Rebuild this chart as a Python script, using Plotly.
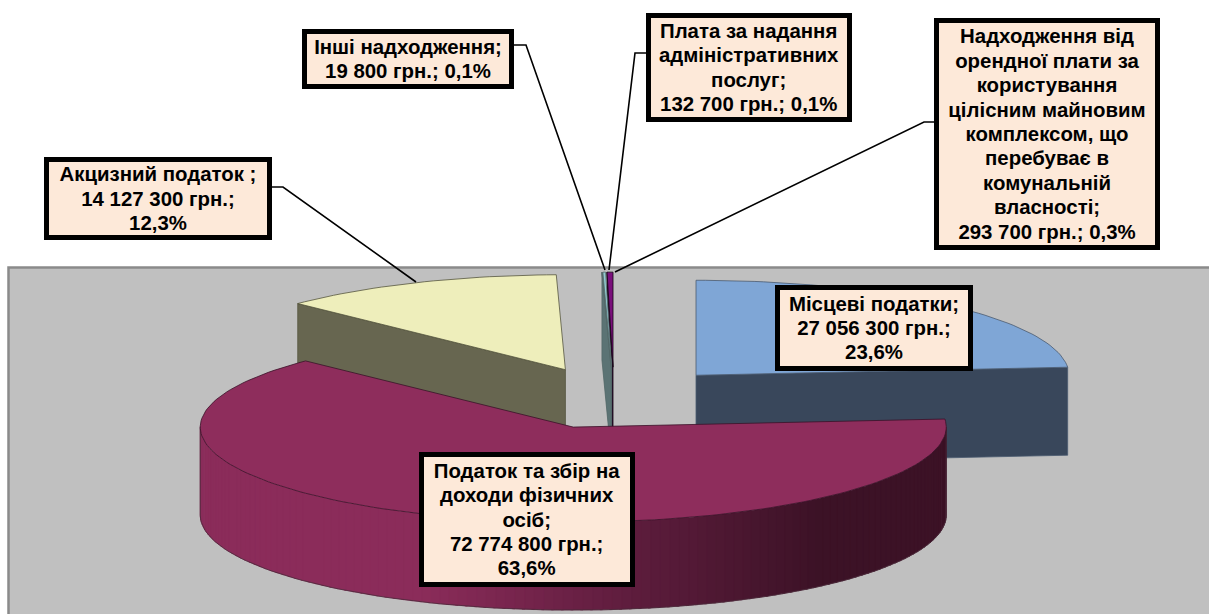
import math
import plotly.graph_objects as go

# --- data ---
categories = ["Місцеві податки", "Податок та збір на доходи фізичних осіб", "Акцизний податок ",
              "Інші надходження", "Плата за надання адміністративних послуг",
              "Надходження від орендної плати за користування цілісним майновим комплексом, що перебуває в комунальній власності"]
values = [27056300, 72774800, 14127300, 19800, 132700, 293700]
value_labels = ["27 056 300 грн.", "72 774 800 грн.", "14 127 300 грн.", "19 800 грн.", "132 700 грн.", "293 700 грн."]
percent_labels = ["23,6%", "63,6%", "12,3%", "0,1%", "0,1%", "0,3%"]

label_lines = [
    ["Місцеві податки;", "27 056 300 грн.;", "23,6%"],
    ["Податок та збір на", "доходи фізичних", "осіб;", "72 774 800 грн.;", "63,6%"],
    ["Акцизний податок ;", "14 127 300 грн.;", "12,3%"],
    ["Інші надходження;", "19 800 грн.; 0,1%"],
    ["Плата за надання", "адміністративних", "послуг;", "132 700 грн.; 0,1%"],
    ["Надходження від", "орендної плати за", "користування", "цілісним майновим", "комплексом, що",
     "перебуває в", "комунальній", "власності;", "293 700 грн.; 0,3%"],
]

# --- style / geometry ---
top_colors = ["#7fa6d6", "#8e2d5c", "#eeeebb", "#a6d6da", "#93cbd2", "#7a0f7c"]
side_colors = ["#39475b", "#7a2650", "#676650", "#5b7374", "#5b7374", "#2a0a2a"]
edge_colors = ["#4a5a70", "#3a1228", "#55553f", "#54696a", "#54696a", "#140514"]
CX, CY, A, B, DEPTH, EXPLODE = 614.0, 398.0, 373.0, 95.0, 88.0, 0.325
# label boxes: left, top, right, bottom of the outer box
boxes = [(775, 285, 973, 371), (419, 452, 635, 587), (44, 157, 272, 240),
         (302, 29, 514, 89), (646, 13, 852, 122), (934, 18, 1160, 250)]
leaders = [None, None,
           [(272, 187), (283, 187), (416, 282)],
           [(514, 45), (526, 45), (605, 270)],
           [(646, 53), (635, 53), (609, 270)],
           [(934, 122), (924, 122), (615, 272)]]

fig = go.Figure()


def poly(pts, fill, line="rgba(0,0,0,0)", width=0.8):
    fig.add_trace(go.Scatter(x=[p[0] for p in pts] + [pts[0][0]], y=[p[1] for p in pts] + [pts[0][1]],
                             mode="lines", fill="toself", fillcolor=fill,
                             line=dict(color=line, width=width), hoverinfo="skip", showlegend=False))


def mix(c1, c2, t):
    a = [int(c1[i:i + 2], 16) for i in (1, 3, 5)]
    b = [int(c2[i:i + 2], 16) for i in (1, 3, 5)]
    return "#%02x%02x%02x" % tuple(round(a[i] + (b[i] - a[i]) * t) for i in range(3))


total = sum(values)
spans = []
acc = 0.0
for v in values:
    spans.append((acc / total * 360, (acc + v) / total * 360))
    acc += v


def apex(i):
    mid = math.radians(sum(spans[i]) / 2)
    return CX + EXPLODE * A * math.sin(mid), CY - EXPLODE * B * math.cos(mid)


def rim(i, deg, dz=0.0):
    ax, ay = apex(i)
    t = math.radians(deg)
    return ax + A * math.sin(t), ay - B * math.cos(t) + dz


def arc(i, d0, d1):
    n = max(2, int(abs(d1 - d0) / 1.5) + 2)
    return [rim(i, d0 + (d1 - d0) * k / (n - 1)) for k in range(n)]


def cut_face(i, deg):
    ax, ay = apex(i)
    r = rim(i, deg)
    r2 = rim(i, deg, DEPTH)
    poly([(ax, ay), r, r2, (ax, ay + DEPTH)], side_colors[i], edge_colors[i])


def draw_faces(i):
    s, e = spans[i]
    if math.sin(math.radians(s)) < 0:
        cut_face(i, s)
    if math.sin(math.radians(e)) > 1e-9:
        cut_face(i, e)


def draw_top(i):
    s, e = spans[i]
    poly([apex(i)] + arc(i, s, e), top_colors[i], edge_colors[i])


def draw_round_side(i):
    s, e = spans[i]
    lo, hi = max(s, 90.0), min(e, 270.0)
    step = 1.5
    d = lo
    while d < hi:
        d2 = min(d + step, hi)
        x = rim(i, (d + d2) / 2)[0]
        if x < 420:
            col = "#8b2c5a"
        elif x < 640:
            col = mix("#8b2c5a", "#5c1c3c", (x - 420) / 220)
        else:
            col = mix("#5c1c3c", "#3c1226", min(1, (x - 640) / 180))
        pts = [rim(i, d), rim(i, d2 + 0.4), rim(i, d2 + 0.4, DEPTH), rim(i, d, DEPTH)]
        poly(pts, col, col, 0.5)
        d = d2
    outline = arc(i, lo, hi)
    lower = [rim(i, lo + (hi - lo) * k / 120, DEPTH) for k in range(121)]
    fig.add_trace(go.Scatter(x=[p[0] for p in outline[:1] + lower + outline[-1:]],
                             y=[p[1] for p in outline[:1] + lower + outline[-1:]],
                             mode="lines", line=dict(color="#4a2a3a", width=0.8),
                             hoverinfo="skip", showlegend=False))


# back to front
draw_faces(0); draw_top(0)
draw_faces(2); draw_top(2)
for i in (5, 4, 3):
    draw_faces(i)
for i in (3, 4, 5):
    draw_top(i)
draw_round_side(1)
draw_top(1)

# label boxes
TEXT_PX = 20.4
for lines, (l, t, r, b) in zip(label_lines, boxes):
    text = "<br>".join(f'<b style="font-size:{TEXT_PX}px"><span style="font-size:{TEXT_PX}px">{ln}</span></b>' for ln in lines)
    fig.add_annotation(x=(l + r) / 2, y=(t + b) / 2, xref="x", yref="y", text=text, showarrow=False,
                       width=r - l - 10, height=b - t - 10, align="center", valign="middle",
                       bgcolor="#fde9d9", bordercolor="#000000", borderwidth=5, borderpad=0,
                       font=dict(family="Liberation Sans", size=18.8, color="#000000"))

shapes = [dict(type="rect", xref="x", yref="y", x0=8.5, y0=267.5, x1=1214, y1=620,
               fillcolor="#c0c0c0", line=dict(color="#8a8a8a", width=2.5), layer="below")]
for pts in leaders:
    if pts:
        path = "M " + " L ".join(f"{x},{y}" for x, y in pts)
        shapes.append(dict(type="path", xref="x", yref="y", path=path,
                           line=dict(color="#000000", width=1.6), layer="above"))

fig.update_layout(width=1209, height=614, margin=dict(l=0, r=0, t=0, b=0),
                  paper_bgcolor="#ffffff", plot_bgcolor="rgba(0,0,0,0)", showlegend=False,
                  xaxis=dict(range=[0, 1209], visible=False, fixedrange=True),
                  yaxis=dict(range=[614, 0], visible=False, fixedrange=True),
                  shapes=shapes)
fig.write_html("out.html", config={"displayModeBar": False},
               post_script="document.body.style.margin='0';document.body.style.overflow='hidden';")
